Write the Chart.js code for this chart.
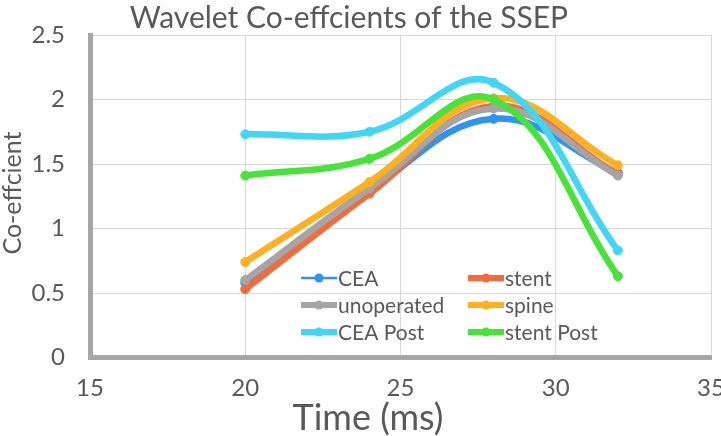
<!DOCTYPE html>
<html>
<head>
<meta charset="utf-8">
<script src="https://cdn.jsdelivr.net/npm/chart.js@4.4.1/dist/chart.umd.min.js"></script>
<style>
    html, body { margin: 0; padding: 0; background: #fff; }
    #wrap { width: 721px; height: 436px; }
</style>
</head>
<body>
<div id="wrap"><canvas id="chart" width="721" height="436"></canvas></div>
<script>
// time points (ms)
const times = [20, 24, 28, 32];

const seriesNames = ['CEA', 'stent', 'unoperated', 'spine', 'CEA Post', 'stent Post'];
const ceaValues = [0.58, 1.29, 1.85, 1.43];
const stentValues = [0.53, 1.27, 1.95, 1.42];
const unoperatedValues = [0.60, 1.31, 1.93, 1.41];
const spineValues = [0.74, 1.36, 2.01, 1.49];
const ceaPostValues = [1.73, 1.75, 2.13, 0.83];
const stentPostValues = [1.41, 1.54, 2.00, 0.63];

const xTicks = [15, 20, 25, 30, 35];
const yTicks = [0, 0.5, 1, 1.5, 2, 2.5];

const colors = ['#2f93f0', '#f8693a', '#a5a5a5', '#fdb11f', '#3fd7f4', '#47e23a'];
const legendLineWidths = [2.5, 6, 6, 6, 6, 6];
const textColor = '#595959';
const FONT = 'Lato, "Open Sans", sans-serif';

const allValues = [ceaValues, stentValues, unoperatedValues, spineValues, ceaPostValues, stentPostValues];

const datasets = allValues.map((vals, i) => ({
    label: seriesNames[i],
    data: vals.map((v, j) => ({x: times[j], y: v})),
    borderColor: colors[i],
    backgroundColor: colors[i],
    pointBackgroundColor: colors[i],
    pointBorderColor: colors[i],
    borderWidth: 6.5,
    pointRadius: 4.5,
    pointBorderWidth: 1,
    showLine: true,
    tension: 0.4,
    fill: false,
    // later series on top, like the original
    order: allValues.length - i
}));

// title, axis titles and the in-plot legend
const decorations = {
    id: 'decorations',
    afterDraw(chart) {
        const ctx = chart.ctx;
        ctx.save();
        ctx.fillStyle = textColor;

        ctx.font = '30px ' + FONT;
        ctx.textAlign = 'center';
        ctx.textBaseline = 'alphabetic';
        ctx.fillText('Wavelet Co-effcients of the SSEP', 349, 28);

        ctx.font = '36px ' + FONT;
        ctx.fillText('Time (ms)', 368, 430);

        ctx.save();
        ctx.translate(13, 193);
        ctx.rotate(-Math.PI / 2);
        ctx.font = '25px ' + FONT;
        ctx.textBaseline = 'middle';
        ctx.fillText('Co-effcient', 0, 0);
        ctx.restore();

        // legend: 2 columns x 3 rows
        ctx.font = '21px ' + FONT;
        ctx.textAlign = 'left';
        ctx.textBaseline = 'middle';
        chart.data.datasets.forEach((ds, i) => {
            const col = i % 2;
            const row = Math.floor(i / 2);
            const x0 = col === 0 ? 301 : 468;
            const y = 278 + row * 27;
            ctx.strokeStyle = ds.borderColor;
            ctx.lineWidth = legendLineWidths[i];
            ctx.beginPath();
            ctx.moveTo(x0, y);
            ctx.lineTo(x0 + 36, y);
            ctx.stroke();
            ctx.fillStyle = ds.borderColor;
            ctx.beginPath();
            ctx.arc(x0 + 18, y, 4.5, 0, Math.PI * 2);
            ctx.fill();
            ctx.fillStyle = textColor;
            ctx.fillText(ds.label, x0 + 37, y + 1);
        });
        ctx.restore();
    }
};

new Chart(document.getElementById('chart'), {
    type: 'scatter',
    data: {datasets: datasets},
    options: {
        responsive: false,
        animation: false,
        layout: {padding: {left: 0, right: 10, top: 35, bottom: 0}},
        plugins: {
            legend: {display: false},
            tooltip: {enabled: false}
        },
        scales: {
            x: {
                type: 'linear',
                min: 15,
                max: 35,
                afterBuildTicks: scale => { scale.ticks = xTicks.map(v => ({value: v})); },
                afterFit: scale => {
                    scale.height = 78.5;
                    scale.paddingLeft = 0;
                    scale.paddingRight = 0;
                },
                grid: {color: '#d9d9d9', lineWidth: 1, drawTicks: false},
                border: {color: '#a6a6a6', width: 5},
                ticks: {
                    color: textColor,
                    font: {family: FONT, size: 24},
                    padding: 16,
                    maxRotation: 0,
                    callback: v => String(v)
                }
            },
            y: {
                min: 0,
                max: 2.5,
                afterBuildTicks: scale => { scale.ticks = yTicks.map(v => ({value: v})); },
                afterFit: scale => {
                    scale.width = 90;
                    scale.paddingTop = 0;
                    scale.paddingBottom = 0;
                },
                grid: {color: '#d9d9d9', lineWidth: 1, drawTicks: false},
                border: {color: '#a6a6a6', width: 5},
                ticks: {
                    color: textColor,
                    font: {family: FONT, size: 24},
                    padding: 25,
                    callback: v => String(v)
                }
            }
        }
    },
    plugins: [decorations]
});
</script>
</body>
</html>
